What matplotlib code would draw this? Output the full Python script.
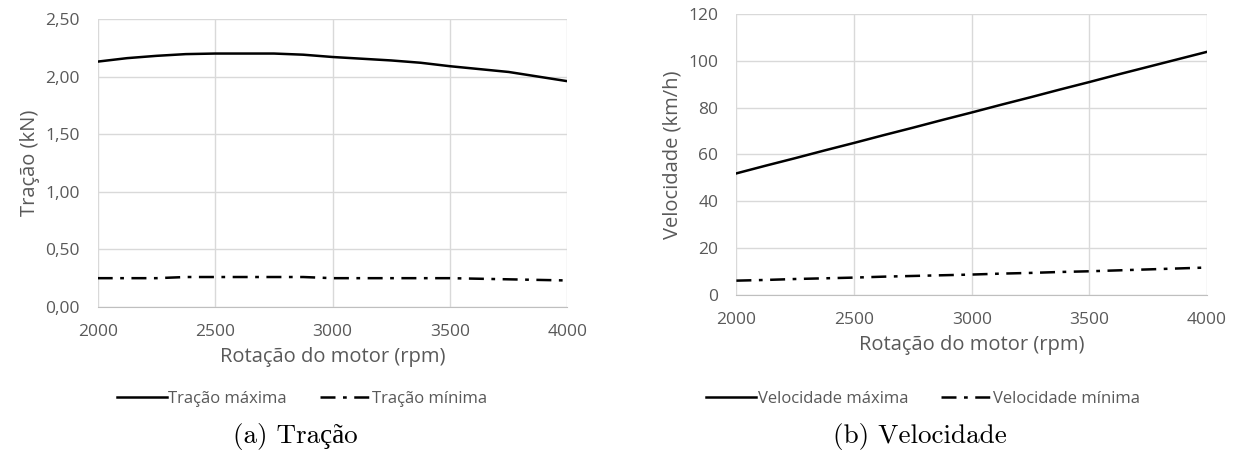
import numpy as np
import matplotlib
matplotlib.use("Agg")
import matplotlib.pyplot as plt
from matplotlib.ticker import FuncFormatter

# dados
rpm = [2000, 2125, 2250, 2375, 2500, 2625, 2750, 2875, 3000, 3125, 3250, 3375, 3500, 3625, 3750, 3875, 4000]
tracao_max = [2.13, 2.16, 2.18, 2.195, 2.20, 2.20, 2.20, 2.19, 2.17, 2.155, 2.14, 2.12, 2.09, 2.065, 2.04, 2.00, 1.96]
tracao_min = [0.25, 0.25, 0.25, 0.26, 0.26, 0.26, 0.26, 0.26, 0.25, 0.25, 0.25, 0.25, 0.25, 0.245, 0.24, 0.235, 0.23]
vel_max = [51.9, 55.2, 58.4, 61.7, 64.9, 68.2, 71.4, 74.7, 77.9, 81.2, 84.4, 87.7, 90.9, 94.2, 97.4, 100.6, 103.8]
vel_min = [6.1, 6.4, 6.8, 7.1, 7.4, 7.8, 8.1, 8.4, 8.7, 9.1, 9.4, 9.8, 10.1, 10.5, 10.9, 11.3, 11.7]

txt = '#595959'
grid_c = '#d9d9d9'
sans = ['Open Sans', 'DejaVu Sans']
serif = ['cmr10', 'Liberation Serif', 'DejaVu Serif']
dashdot = (0, (6, 3, 1.5, 3))

fig = plt.figure(figsize=(12.46, 4.63), dpi=100)
ax1 = fig.add_axes([0.0784, 0.337, 0.377, 0.622])
ax2 = fig.add_axes([0.591, 0.363, 0.3777, 0.607])


def style(ax, ylim, yticks, fmt, ylabel):
    ax.set_xlim(2000, 4000)
    ax.set_ylim(*ylim)
    ax.set_xticks([2000, 2500, 3000, 3500, 4000])
    ax.set_yticks(yticks)
    ax.yaxis.set_major_formatter(FuncFormatter(fmt))
    ax.grid(True, color=grid_c, linewidth=1)
    ax.set_axisbelow(True)
    for s in ['top', 'right', 'left']:
        ax.spines[s].set_visible(False)
    ax.spines['bottom'].set_color('#bfbfbf')
    ax.tick_params(length=0, labelsize=12.5, colors=txt)
    ax.tick_params(axis='x', pad=12)
    ax.tick_params(axis='y', pad=13)
    for lab in ax.get_xticklabels() + ax.get_yticklabels():
        lab.set_family(sans)
    ax.set_xlabel('Rotação do motor (rpm)', fontsize=14.5, color=txt, family=sans, labelpad=5)
    ax.set_ylabel(ylabel, fontsize=14.5, color=txt, family=sans, labelpad=4)


ax1.plot(rpm, tracao_max, color='black', lw=1.8, label='Tração máxima')
ax1.plot(rpm, tracao_min, color='black', lw=1.8, ls=dashdot, label='Tração mínima')
style(ax1, (0, 2.5), np.arange(0, 2.51, 0.5), lambda v, p: f'{v:.2f}'.replace('.', ','), 'Tração (kN)')

ax2.plot(rpm, vel_max, color='black', lw=1.8, label='Velocidade máxima')
ax2.plot(rpm, vel_min, color='black', lw=1.8, ls=dashdot, label='Velocidade mínima')
style(ax2, (0, 120), np.arange(0, 121, 20), lambda v, p: f'{v:.0f}', 'Velocidade (km/h)')

for ax, cx in [(ax1, 302 / 1246), (ax2, 923 / 1246)]:
    h, l = ax.get_legend_handles_labels()
    leg = fig.legend(h, l, loc='center', bbox_to_anchor=(cx, 1 - 399 / 463), ncol=2, frameon=False,
                     prop={'family': sans, 'size': 12}, handlelength=3.0, handletextpad=0.1,
                     columnspacing=2.0)
    for t in leg.get_texts():
        t.set_color(txt)

fig.text(295 / 1246, 1 - 436 / 463, '(a) Tração', ha='center', va='center', fontsize=19.5, family=serif)
fig.text(920 / 1246, 1 - 436 / 463, '(b) Velocidade', ha='center', va='center', fontsize=19.5, family=serif)

fig.savefig('out.png', dpi=100)
